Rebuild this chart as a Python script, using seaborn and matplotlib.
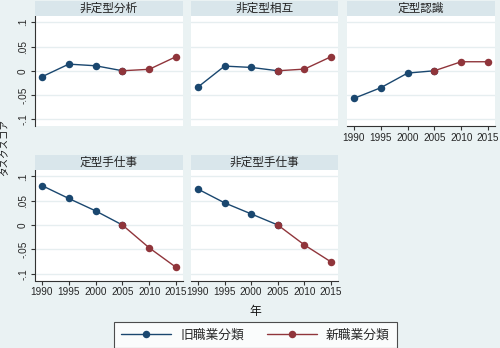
import matplotlib
matplotlib.use("Agg")
import matplotlib.pyplot as plt
from matplotlib.lines import Line2D
import seaborn as sns
import pandas as pd

# ---- data ----
years_old = [1990, 1995, 2000, 2005]
years_new = [2005, 2010, 2015]
panel_titles = ["非定型分析", "非定型相互", "定型認識", "定型手仕事", "非定型手仕事"]
old_values = [
    [-0.0124, 0.0137, 0.0103, 0.0],
    [-0.0337, 0.0096, 0.0069, 0.0],
    [-0.0570, -0.0350, -0.0048, 0.0],
    [0.0810, 0.0545, 0.0290, 0.0],
    [0.0738, 0.0455, 0.0228, 0.0],
]
new_values = [
    [0.0, 0.0030, 0.0290],
    [0.0, 0.0034, 0.0290],
    [0.0, 0.0186, 0.0186],
    [0.0, -0.0469, -0.0869],
    [0.0, -0.0410, -0.0759],
]
series_names = ["旧職業分類", "新職業分類"]
xticks = [1990, 1995, 2000, 2005, 2010, 2015]
yticks = [-0.1, -0.05, 0, 0.05, 0.1]
ytick_labels = ["-.1", "-.05", "0", ".05", ".1"]
x_label = "年"
y_label = "タスクスコア"

# ---- style ----
sns.set_style("white")
plt.rcParams["font.family"] = ["Liberation Sans", "Noto Sans CJK JP", "DejaVu Sans"]

BG = "#EAF2F3"
STRIP = "#D9E6EB"
GRID = "#E6EEF0"
BLUE = "#1A476F"
RED = "#90353B"
palette = {series_names[0]: BLUE, series_names[1]: RED}

W, H = 500, 348
fig = plt.figure(figsize=(W / 100, H / 100), dpi=100, facecolor=BG)

col_x = [(35, 183), (191, 338), (347, 495)]
row_y = [(16, 126), (170, 280.5)]
strip_h = 15

positions = [(0, 0), (0, 1), (0, 2), (1, 0), (1, 1)]

for i, (r, c) in enumerate(positions):
    x0, x1 = col_x[c]
    y0, y1 = row_y[r]
    ax = fig.add_axes([x0 / W, 1 - y1 / H, (x1 - x0) / W, (y1 - y0) / H])
    ax.set_facecolor("white")
    df = pd.concat([
        pd.DataFrame({"year": years_old, "score": old_values[i], "cls": series_names[0]}),
        pd.DataFrame({"year": years_new, "score": new_values[i], "cls": series_names[1]}),
    ], ignore_index=True)
    sns.lineplot(data=df, x="year", y="score", hue="cls", hue_order=series_names,
                 palette=palette, marker="o", markersize=5.4, markeredgewidth=0,
                 linewidth=1.0, legend=False, ax=ax, zorder=3)
    ax.set_xlim(1988.7, 2016.3)
    ax.set_ylim(-0.114, 0.113)
    ax.set_yticks(yticks)
    ax.set_xticks(xticks)
    ax.grid(axis="y", color=GRID, linewidth=1.0, zorder=0)
    ax.grid(axis="x", visible=False)
    ax.set_xlabel("")
    ax.set_ylabel("")
    for s in ["top", "right"]:
        ax.spines[s].set_visible(False)
    show_y = (c == 0)
    show_x = (r == 1) or (c == 2)
    ax.spines["left"].set_visible(show_y)
    ax.spines["bottom"].set_visible(show_x)
    for s in ["left", "bottom"]:
        ax.spines[s].set_color("#333333")
        ax.spines[s].set_linewidth(0.8)
    if show_y:
        ax.set_yticklabels(ytick_labels, rotation=90, va="center", fontsize=7.2)
        ax.tick_params(axis="y", length=3, width=0.8, pad=2, left=True, color="#333333")
    else:
        ax.tick_params(axis="y", left=False, labelleft=False)
    if show_x:
        ax.set_xticklabels([str(t) for t in xticks], fontsize=7.2)
        ax.tick_params(axis="x", length=3, width=0.8, pad=2, bottom=True, color="#333333")
    else:
        ax.tick_params(axis="x", bottom=False, labelbottom=False)
    # strip header
    fig.patches.append(plt.Rectangle((x0 / W, 1 - y0 / H), (x1 - x0) / W, strip_h / H,
                                     transform=fig.transFigure, facecolor=STRIP,
                                     edgecolor="none", zorder=0))
    fig.text((x0 + x1) / 2 / W, 1 - (y0 - strip_h / 2) / H, panel_titles[i],
             ha="center", va="center", fontsize=8.4, color="#222222")

fig.text(5 / W, 1 - 148 / H, y_label, rotation=90, ha="center", va="center",
         fontsize=6.8, color="#111111")
fig.text(255 / W, 1 - 312 / H, x_label, ha="center", va="center",
         fontsize=8.5, color="#111111")

handles = [Line2D([0], [0], color=palette[n], marker="o", markersize=5.4,
                  markeredgewidth=0, linewidth=1.0) for n in series_names]
leg = fig.legend(handles, series_names, loc="upper center",
                 bbox_to_anchor=(255.5 / W, 1 - 322 / H), ncol=2, frameon=True,
                 fontsize=9.2, handlelength=3.9, columnspacing=1.8,
                 handletextpad=0.7, borderpad=0.55, fancybox=False,
                 borderaxespad=0)
leg.get_frame().set_edgecolor("#222222")
leg.get_frame().set_linewidth(0.8)
leg.get_frame().set_facecolor("white")

fig.savefig("out.png", dpi=100, facecolor=BG)
